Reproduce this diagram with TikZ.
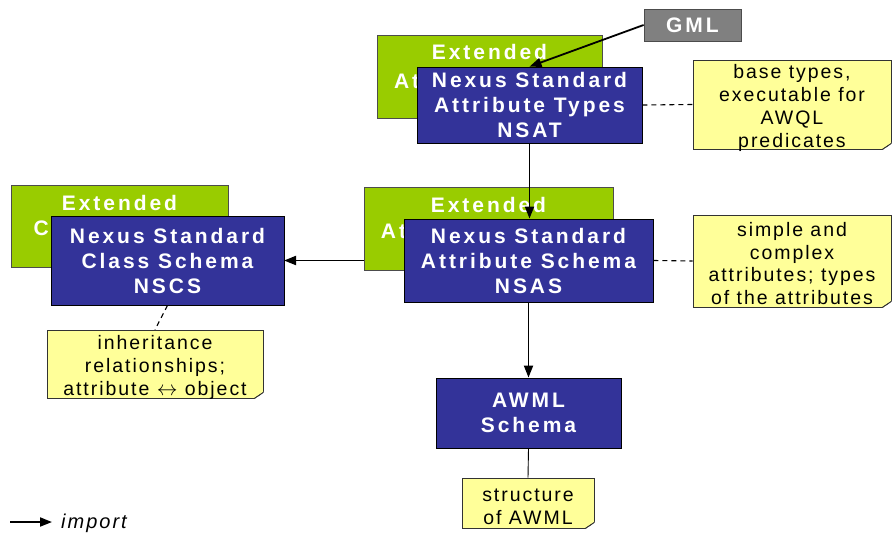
\documentclass[tikz,border=0pt]{standalone}
\usepackage{fontspec}
\setmainfont{Liberation Sans}
\newfontfamily\boxfont[LetterSpace=14]{Liberation Sans}
\newfontfamily\notefont[LetterSpace=10]{Liberation Sans}
\usetikzlibrary{arrows.meta}

\definecolor{nexusblue}{HTML}{333399}
\definecolor{extgreen}{HTML}{99CC00}
\definecolor{gmlgray}{HTML}{808080}
\definecolor{noteyellow}{HTML}{FFFF99}
\definecolor{notefold}{HTML}{E6E68A}

\tikzset{
  boxtext/.style={font=\boxfont\bfseries\fontsize{21}{25}\selectfont},
  schemabox/.style={boxtext, draw=black, line width=0.8pt, fill=nexusblue, text=white,
    inner sep=0pt, align=center},
  extbox/.style={draw=black!70, line width=0.8pt, fill=extgreen,
    inner sep=0pt, anchor=north},
  extlabel/.style={boxtext, text=white, inner sep=0pt, anchor=base},
  gmlbox/.style={boxtext, draw=black!70, line width=0.8pt, fill=gmlgray, text=white,
    inner sep=0pt, align=center},
  notebox/.style={draw=black!80, line width=0.7pt, fill=noteyellow, inner sep=0pt},
  notetext/.style={text=black, inner sep=0pt, align=center,
    font=\notefont\fontsize{19.5}{22.7}\selectfont},
  import/.style={line width=1.8pt, -{Triangle[length=12pt,width=9pt]}},
  notelink/.style={line width=1.1pt, dash pattern=on 5pt off 4pt},
  plainlink/.style={line width=0.9pt},
}

% folded lower-right corner of a note
\newcommand\notecorner[1]{%
  \fill[white] ([xshift=-9pt,yshift=-1pt]#1.south east) -- ([xshift=1pt,yshift=-1pt]#1.south east)
    -- ([xshift=1pt,yshift=7pt]#1.south east) -- cycle;
  \filldraw[fill=notefold, draw=black!80, line width=0.6pt]
    ([xshift=-9pt]#1.south east) -- ([yshift=6pt]#1.south east)
    -- ([xshift=-4pt,yshift=3pt]#1.south east) -- cycle;
  \draw[black!80, line width=0.7pt] ([xshift=-9pt]#1.south east) -- ([yshift=6pt]#1.south east);
}

\begin{document}
\begin{tikzpicture}[x=1pt, y=-1pt]
\useasboundingbox (0,0) rectangle (892,533);

% extended schemas (partly hidden behind the standard ones)
\node[extbox, minimum width=225pt, minimum height=83pt] (extat) at (489.5,35) {};
\node[extlabel] (extat1) at (489.5,59) {Extended};
\node[extlabel] (extat2) at (489.5,88) {Attribute Types};
\node[extbox, minimum width=217pt, minimum height=82pt] (extcs) at (119.5,185) {};
\node[extlabel] (extcs1) at (119.5,210) {Extended};
\node[extlabel] (extcs2) at (119.5,235) {Class Schema};

% connector passing behind the middle extended box
\coordinate (nsasw) at (404,260.5);
\draw[import] (nsasw) -- (284,260.5) coordinate (nscse);

\node[extbox, minimum width=249pt, minimum height=83pt] (extas) at (488.5,187) {};
\node[extlabel] (extas1) at (488.5,212) {Extended};
\node[extlabel] (extas2) at (488.5,238) {Attribute Schema};

% standard schemas
\node[schemabox, minimum width=225pt, minimum height=76pt]
  (nsat) at (529.5,105) {Nexus Standard\\Attribute Types\\NSAT};
\node[schemabox, minimum width=233pt, minimum height=89pt]
  (nscs) at (167.5,260.5) {Nexus Standard\\Class Schema\\NSCS};
\node[schemabox, minimum width=249pt, minimum height=83pt]
  (nsas) at (528.5,260.5) {Nexus Standard\\Attribute Schema\\NSAS};
\node[schemabox, minimum width=185pt, minimum height=70pt]
  (awml) at (528.5,413) {AWML\\Schema};
\node[gmlbox, minimum width=97pt, minimum height=32pt]
  (gml) at (692.5,25) {GML};

% notes
\node[notebox, minimum width=198pt, minimum height=89pt] (n1) at (792,104.5) {};
\node[notetext] (n1t) at (792,108) {base types,\\executable for\\AWQL\\predicates};
\node[notebox, minimum width=198pt, minimum height=92pt] (n2) at (792,261) {};
\node[notetext] (n2t) at (792,263.5) {simple and\\complex\\attributes; types\\of the attributes};
\node[notebox, minimum width=216pt, minimum height=68pt] (n3) at (155,364) {};
\node[notetext] (n3t) at (155,367.5) {inheritance\\relationships;\\attribute $\leftrightarrow$ object};
\node[notebox, minimum width=132pt, minimum height=50pt] (n4) at (528,503) {};
\node[notetext] (n4t) at (528,506.5) {structure\\of AWML};
\notecorner{n1}
\notecorner{n2}
\notecorner{n3}
\notecorner{n4}

% imports
\draw[import] (gml.west) -- (nsat.north);
\draw[import] (nsat.south) -- (nsat.south |- nsas.north);
\draw[import] (nsas.south) -- (awml.north);

% note links
\draw[notelink] (nsat.east) -- (n1.west);
\draw[notelink] (nsas.east) -- (n2.west);
\draw[notelink] (nscs.south) -- (n3.north);
\draw[plainlink] (awml.south) -- (n4.north);

% legend
\coordinate (lega) at (10,522);
\coordinate (legb) at (52,522);
\draw[import] (lega) -- (legb);
\node[anchor=west, inner sep=0pt, font=\notefont\itshape\fontsize{20}{22}\selectfont]
  (legtext) at (61,523) {import};
\end{tikzpicture}
\end{document}
